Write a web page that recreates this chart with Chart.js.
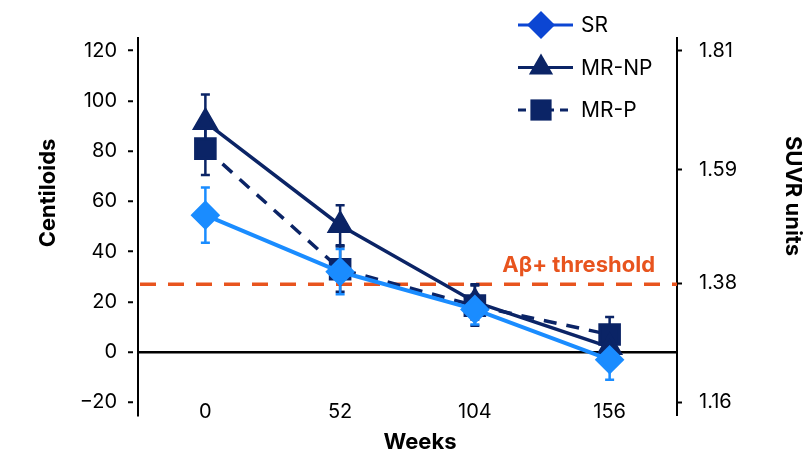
<!DOCTYPE html>
<html>
<head>
<meta charset="utf-8">
<script src="https://cdn.jsdelivr.net/npm/chart.js@4.4.0/dist/chart.umd.min.js"></script>
<style>
  html, body { margin: 0; padding: 0; background: #fff; }
  #wrap { width: 807px; height: 452px; position: relative; }
</style>
</head>
<body>
<div id="wrap"><canvas id="chart"></canvas></div>
<script>
  const weeks = ['0', '52', '104', '156'];
  const srValues = [54.5, 32, 17, -3];
  const srErrors = [11, 9, 6, 8];
  const mrNpValues = [91.5, 50.5, 20, 2];
  const mrNpErrors = [11, 8, 7, 6];
  const mrPValues = [81, 33, 18.5, 7];
  const mrPErrors = [10.5, 9, 8, 7];
  const clTicks = [-20, 0, 20, 40, 60, 80, 100, 120];
  const suvrTicks = [1.16, 1.38, 1.59, 1.81];
  const thresholdCL = 27;

  const clMin = -25, clMax = 125;
  // SUVR axis is just a linear re-label of the centiloid axis
  const suvrPerCL = (1.81 - 1.16) / (120 - (-20));
  const toSuvr = cl => 1.16 + (cl + 20) * suvrPerCL;

  const srColor = '#1a8cff';
  const srLegendColor = '#0c46d3';
  const navy = '#0b2466';
  const orange = '#e8541e';
  const fontFamily = 'Inter, "Noto Sans", sans-serif';

  const errorBars = {
    id: 'errorBars',
    beforeDatasetsDraw(chart) {
      const ctx = chart.ctx;
      const y = chart.scales.y;
      for (let i = chart.data.datasets.length - 1; i >= 0; i--) {
        const ds = chart.data.datasets[i];
        const meta = chart.getDatasetMeta(i);
        ctx.save();
        ctx.strokeStyle = ds.borderColor;
        ctx.lineWidth = 2.5;
        meta.data.forEach((pt, j) => {
          const top = y.getPixelForValue(ds.data[j] + ds.errors[j]);
          const bot = y.getPixelForValue(ds.data[j] - ds.errors[j]);
          ctx.beginPath();
          ctx.moveTo(pt.x, top); ctx.lineTo(pt.x, bot);
          ctx.moveTo(pt.x - 4.5, top); ctx.lineTo(pt.x + 4.5, top);
          ctx.moveTo(pt.x - 4.5, bot); ctx.lineTo(pt.x + 4.5, bot);
          ctx.stroke();
        });
        ctx.restore();
      }
    }
  };

  const threshold = {
    id: 'threshold',
    beforeDatasetsDraw(chart) {
      const { ctx, chartArea } = chart;
      const ty = chart.scales.y.getPixelForValue(thresholdCL);
      ctx.save();
      ctx.strokeStyle = orange;
      ctx.lineWidth = 3.5;
      ctx.setLineDash([16, 12]);
      ctx.beginPath();
      ctx.moveTo(chartArea.left + 2, ty);
      ctx.lineTo(chartArea.right, ty);
      ctx.stroke();
      ctx.setLineDash([]);
      ctx.fillStyle = orange;
      ctx.font = 'bold 22px ' + fontFamily;
      ctx.textAlign = 'right';
      ctx.textBaseline = 'alphabetic';
      ctx.fillText('A\u03b2+ threshold', chartArea.right - 22, ty - 12);
      ctx.restore();
    }
  };

  const legendItems = [
    { label: 'SR', color: srLegendColor, style: 'rectRot', radius: 14, dash: [] },
    { label: 'MR-NP', color: navy, style: 'triangle', radius: 14, dash: [] },
    { label: 'MR-P', color: navy, style: 'rect', radius: 15, dash: [8, 6] }
  ];

  const titlesAndLegend = {
    id: 'titlesAndLegend',
    afterDraw(chart) {
      const { ctx, chartArea } = chart;
      const xs = chart.scales.x;
      ctx.save();

      // week labels sit just under the lowest y tick, inside the axis span
      ctx.fillStyle = '#000';
      ctx.font = '20px ' + fontFamily;
      ctx.textAlign = 'center';
      ctx.textBaseline = 'middle';
      weeks.forEach((w, i) => ctx.fillText(w, xs.getPixelForTick(i), chartArea.bottom - 3));

      ctx.font = 'bold 22px ' + fontFamily;

      ctx.save();
      ctx.translate(chartArea.left - 90, chartArea.top + 155);
      ctx.rotate(-Math.PI / 2);
      ctx.fillText('Centiloids', 0, 0);
      ctx.restore();

      ctx.save();
      ctx.translate(chartArea.right + 116, chartArea.top + 158);
      ctx.rotate(Math.PI / 2);
      ctx.fillText('SUVR units', 0, 0);
      ctx.restore();

      ctx.fillText('Weeks', 420, chartArea.bottom + 27);

      // legend: line + marker, then label
      const lx = chartArea.right - 136;
      legendItems.forEach((it, k) => {
        const ly = chartArea.top - 13 + k * 42.5;
        ctx.strokeStyle = it.color;
        ctx.fillStyle = it.color;
        ctx.lineWidth = 3;
        ctx.setLineDash(it.dash);
        ctx.beginPath();
        ctx.moveTo(lx - 23, ly);
        ctx.lineTo(lx + 32, ly);
        ctx.stroke();
        ctx.setLineDash([]);
        Chart.helpers.drawPoint(ctx, { pointStyle: it.style, radius: it.radius, rotation: 0, borderWidth: 0 }, lx, ly);
        ctx.fillStyle = '#000';
        ctx.font = '21px ' + fontFamily;
        ctx.textAlign = 'left';
        ctx.fillText(it.label, lx + 40, ly + 1);
      });
      ctx.restore();
    }
  };

  const tickFont = { family: fontFamily, size: 20 };

  new Chart(document.getElementById('chart'), {
    type: 'line',
    data: {
      labels: weeks,
      datasets: [
        {
          label: 'SR', data: srValues, errors: srErrors, yAxisID: 'y',
          borderColor: srColor, backgroundColor: srColor, borderWidth: 4,
          pointStyle: 'rectRot', pointRadius: 12, pointHoverRadius: 12, tension: 0
        },
        {
          label: 'MR-NP', data: mrNpValues, errors: mrNpErrors, yAxisID: 'y',
          borderColor: navy, backgroundColor: navy, borderWidth: 3.5,
          pointStyle: 'triangle', pointRadius: 12, pointHoverRadius: 12, tension: 0
        },
        {
          label: 'MR-P', data: mrPValues, errors: mrPErrors, yAxisID: 'y',
          borderColor: navy, backgroundColor: navy, borderWidth: 3.5, borderDash: [13, 10],
          pointStyle: 'rect', pointRadius: 13.5, pointHoverRadius: 13.5, tension: 0
        }
      ]
    },
    options: {
      responsive: true,
      maintainAspectRatio: false,
      animation: false,
      layout: { padding: { top: 38, left: 0, right: 0, bottom: 0 } },
      plugins: { legend: { display: false }, tooltip: { enabled: false } },
      scales: {
        x: {
          type: 'category',
          offset: true,
          grid: { display: false },
          border: { display: false },
          ticks: { display: false },
          afterFit: s => { s.height = 37; }
        },
        y: {
          position: 'left',
          min: clMin,
          max: clMax,
          afterBuildTicks: s => { s.ticks = clTicks.map(v => ({ value: v })); },
          ticks: {
            padding: 11, color: '#000', font: tickFont,
            callback: v => v < 0 ? '\u2212' + Math.abs(v) : String(v)
          },
          grid: {
            color: c => (c.tick && c.tick.value === 0) ? '#000' : 'rgba(0,0,0,0)',
            lineWidth: 2.5,
            tickColor: '#000', tickLength: 10, tickWidth: 2, tickBorderDash: [5, 5]
          },
          border: { color: '#000', width: 2 },
          afterFit: s => { s.width = 138; }
        },
        y1: {
          position: 'right',
          min: toSuvr(clMin),
          max: toSuvr(clMax),
          afterBuildTicks: s => { s.ticks = suvrTicks.map(v => ({ value: v })); },
          ticks: { padding: 17, color: '#000', font: tickFont, callback: v => v.toFixed(2) },
          grid: { drawOnChartArea: false, tickColor: '#000', tickLength: 5, tickWidth: 2 },
          border: { color: '#000', width: 2 },
          afterFit: s => { s.width = 130; }
        }
      }
    },
    plugins: [threshold, errorBars, titlesAndLegend]
  });
</script>
</body>
</html>
